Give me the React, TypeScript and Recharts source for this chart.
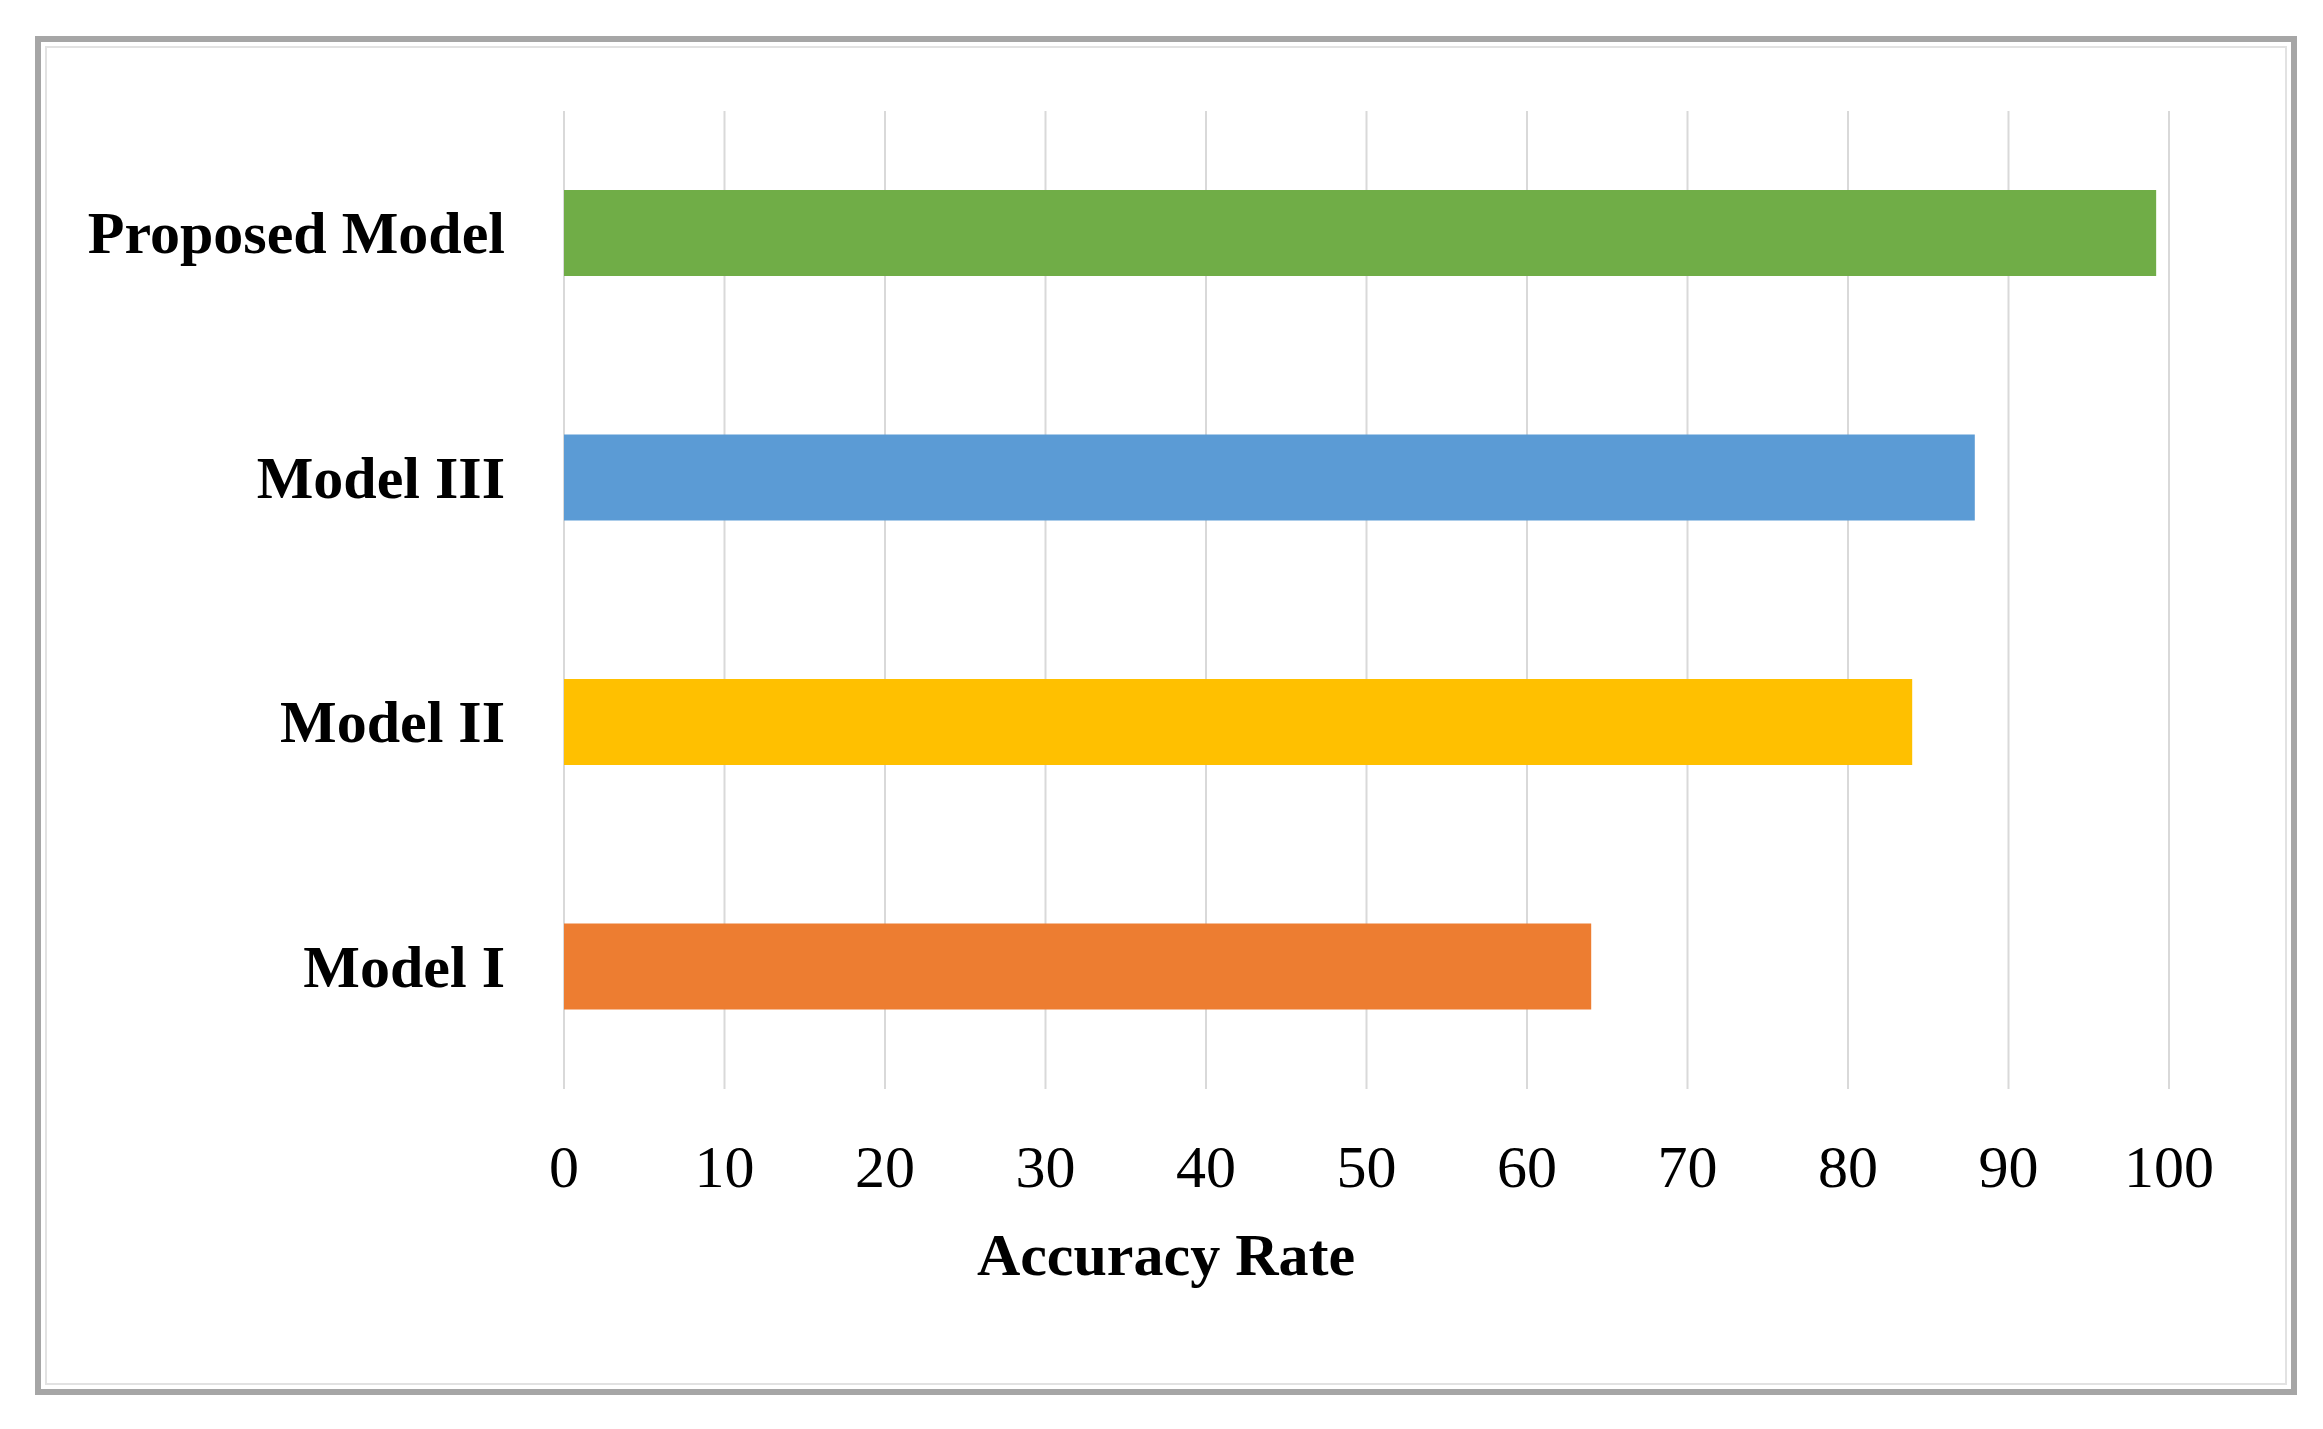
import { Bar, BarChart, CartesianGrid, Cell, XAxis, YAxis } from "recharts"

const models = ["Proposed Model", "Model III", "Model II", "Model I"]
const accuracy = [99.2, 87.9, 84, 64]
const barColors = ["#70AD47", "#5B9BD5", "#FFC000", "#ED7D31"]
const xTicks = [0, 10, 20, 30, 40, 50, 60, 70, 80, 90, 100]

const data = models.map((name, i) => ({ name, accuracy: accuracy[i] }))

const FONT = '"Liberation Serif", "Times New Roman", serif'

const NumberTick = ({ x, y, payload }: any) => (
  <text
    x={x}
    y={y + 98}
    textAnchor="middle"
    fontFamily={FONT}
    fontSize={60}
    fill="#000"
  >
    {payload.value}
  </text>
)

const ModelTick = ({ x, y, payload }: any) => (
  <text
    x={x - 59}
    y={y + 20}
    textAnchor="end"
    fontFamily={FONT}
    fontSize={60}
    fontWeight="bold"
    fill="#000"
  >
    {payload.value}
  </text>
)

export default function App() {
  return (
    <div
      style={{
        position: "relative",
        marginLeft: 27,
        marginTop: 28,
        width: 2262,
        height: 1359,
        border: "6px solid #a6a6a6",
        boxSizing: "border-box",
        background: "#fff",
      }}
    >
      <div
        style={{
          position: "absolute",
          inset: 4,
          border: "2px solid #e2e2e2",
        }}
      />
      <div style={{ position: "absolute", left: 0, top: 0 }}>
        <BarChart
          width={2250}
          height={1347}
          data={data}
          layout="vertical"
          margin={{ top: 69, right: 122, bottom: 200, left: 0 }}
        >
          <CartesianGrid
            horizontal={false}
            stroke="#d9d9d9"
            strokeWidth={2}
          />
          <XAxis
            type="number"
            domain={[0, 100]}
            ticks={xTicks}
            axisLine={false}
            tickLine={false}
            tickSize={0}
            tickMargin={0}
            height={100}
            tick={<NumberTick />}
            interval={0}
          />
          <YAxis
            type="category"
            dataKey="name"
            width={523}
            axisLine={false}
            tickLine={false}
            tickSize={0}
            tickMargin={0}
            tick={<ModelTick />}
            interval={0}
          />
          <Bar dataKey="accuracy" barSize={86} isAnimationActive={false}>
            {data.map((d, i) => (
              <Cell key={d.name} fill={barColors[i]} />
            ))}
          </Bar>
        </BarChart>
      </div>
      <div
        style={{
          position: "absolute",
          left: 0,
          right: 0,
          top: 1173,
          height: 80,
          lineHeight: "80px",
          textAlign: "center",
          fontFamily: FONT,
          fontSize: 60,
          fontWeight: "bold",
          color: "#000",
        }}
      >
        Accuracy Rate
      </div>
    </div>
  )
}
